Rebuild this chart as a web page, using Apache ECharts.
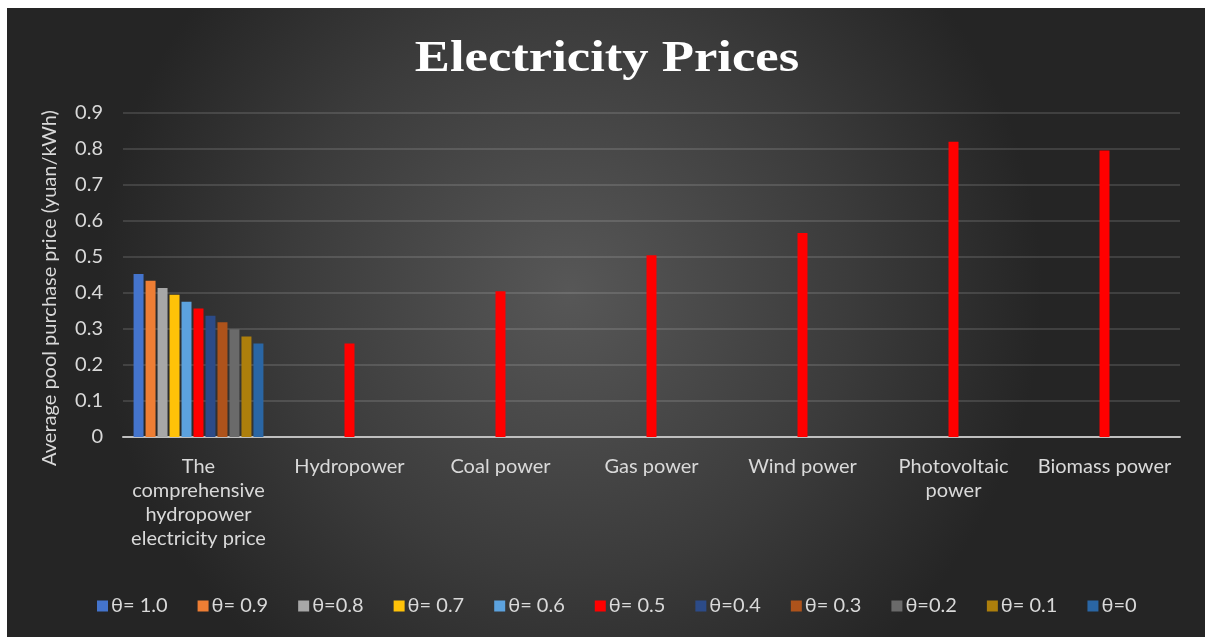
<!DOCTYPE html>
<html>
<head>
<meta charset="utf-8">
<title>Electricity Prices</title>
<script src="https://cdn.jsdelivr.net/npm/echarts@6/dist/echarts.min.js"></script>
<style>
  html, body { margin: 0; padding: 0; background: #ffffff; }
  #chart { position: absolute; left: 7px; top: 8px; width: 1198px; height: 629px; }
</style>
</head>
<body>
<div id="chart"></div>
<script>
// categories on the x axis
const categories = [
  "The\ncomprehensive\nhydropower\nelectricity price",
  "Hydropower",
  "Coal power",
  "Gas power",
  "Wind power",
  "Photovoltaic\npower",
  "Biomass power"
];

// legend names, one per series
const seriesNames = ["θ= 1.0", "θ= 0.9", "θ=0.8", "θ= 0.7", "θ= 0.6", "θ= 0.5",
  "θ=0.4", "θ= 0.3", "θ=0.2", "θ= 0.1", "θ=0"];

// comprehensive hydropower price for each theta
const comprehensivePrice = [0.453, 0.434, 0.414, 0.395, 0.376, 0.357, 0.337, 0.319, 0.299, 0.279, 0.260];

// other sources only appear in the θ=0.5 series
const sourcePrices = [0.26, 0.405, 0.505, 0.567, 0.82, 0.796];

const yTicks = [0, 0.1, 0.2, 0.3, 0.4, 0.5, 0.6, 0.7, 0.8, 0.9];

const colors = ["#4474CC", "#EE7E34", "#A7A7A7", "#FFC208", "#5CA2DE", "#FF0000",
  "#2C4B88", "#AE531B", "#6A6A6A", "#AD7F0C", "#2A66A4"];

const txt = "#D9D9D9";
const font = "Lato, 'Open Sans', sans-serif";

const series = seriesNames.map((name, i) => {
  const data = categories.map((c, j) => (j === 0 ? comprehensivePrice[i] : null));
  if (name === "θ= 0.5") {
    sourcePrices.forEach((v, k) => { data[k + 1] = v; });
  }
  return {
    name: name,
    type: "bar",
    data: data,
    barGap: "20%",
    barCategoryGap: "14%",
    itemStyle: { color: colors[i] },
    emphasis: { disabled: true }
  };
});

const chart = echarts.init(document.getElementById("chart"));
chart.setOption({
  animation: false,
  backgroundColor: {
    type: "radial", x: 0.47, y: 0.45, r: 0.75,
    colorStops: [
      { offset: 0, color: "#575757" },
      { offset: 0.6, color: "#3b3b3b" },
      { offset: 1, color: "#252525" }
    ]
  },
  graphic: [
    // title drawn as graphic text so it can be stretched like the original
    {
      type: "text",
      x: 600,
      y: 29,
      scaleX: 1.17,
      style: {
        text: "Electricity Prices",
        align: "center",
        verticalAlign: "top",
        font: "bold 45px 'Liberation Serif', 'DejaVu Serif', serif",
        fill: "#ffffff"
      }
    },
    // y axis title, sits a bit below the plot middle in the original
    {
      type: "text",
      x: 43,
      y: 280,
      rotation: Math.PI / 2,
      style: {
        text: "Average pool purchase price (yuan/kWh)",
        align: "center",
        verticalAlign: "middle",
        font: "20px " + font,
        fill: txt
      }
    }
  ],
  legend: {
    data: seriesNames,
    bottom: 16,
    left: 85,
    icon: "rect",
    itemWidth: 11,
    itemHeight: 11,
    itemGap: 30,
    textStyle: { color: txt, fontSize: 20, fontFamily: font, padding: [0, 0, 0, -2] }
  },
  grid: { left: 116, right: 25, top: 105, bottom: 200 },
  xAxis: {
    type: "category",
    data: categories,
    axisLine: { lineStyle: { color: "#BFBFBF", width: 2 } },
    axisTick: { show: false },
    axisLabel: { color: txt, fontSize: 20, fontFamily: font, lineHeight: 24, margin: 18, interval: 0 }
  },
  yAxis: {
    type: "value",
    min: 0,
    max: yTicks[yTicks.length - 1],
    interval: 0.1,
    axisLine: { show: false },
    axisTick: { show: false },
    axisLabel: {
      color: txt, fontSize: 20, fontFamily: font, margin: 20,
      formatter: v => (v === 0 ? "0" : v.toFixed(1))
    },
    splitLine: { lineStyle: { color: "rgba(255,255,255,0.17)", width: 1.5 } }
  },
  series: series
});
</script>
</body>
</html>
